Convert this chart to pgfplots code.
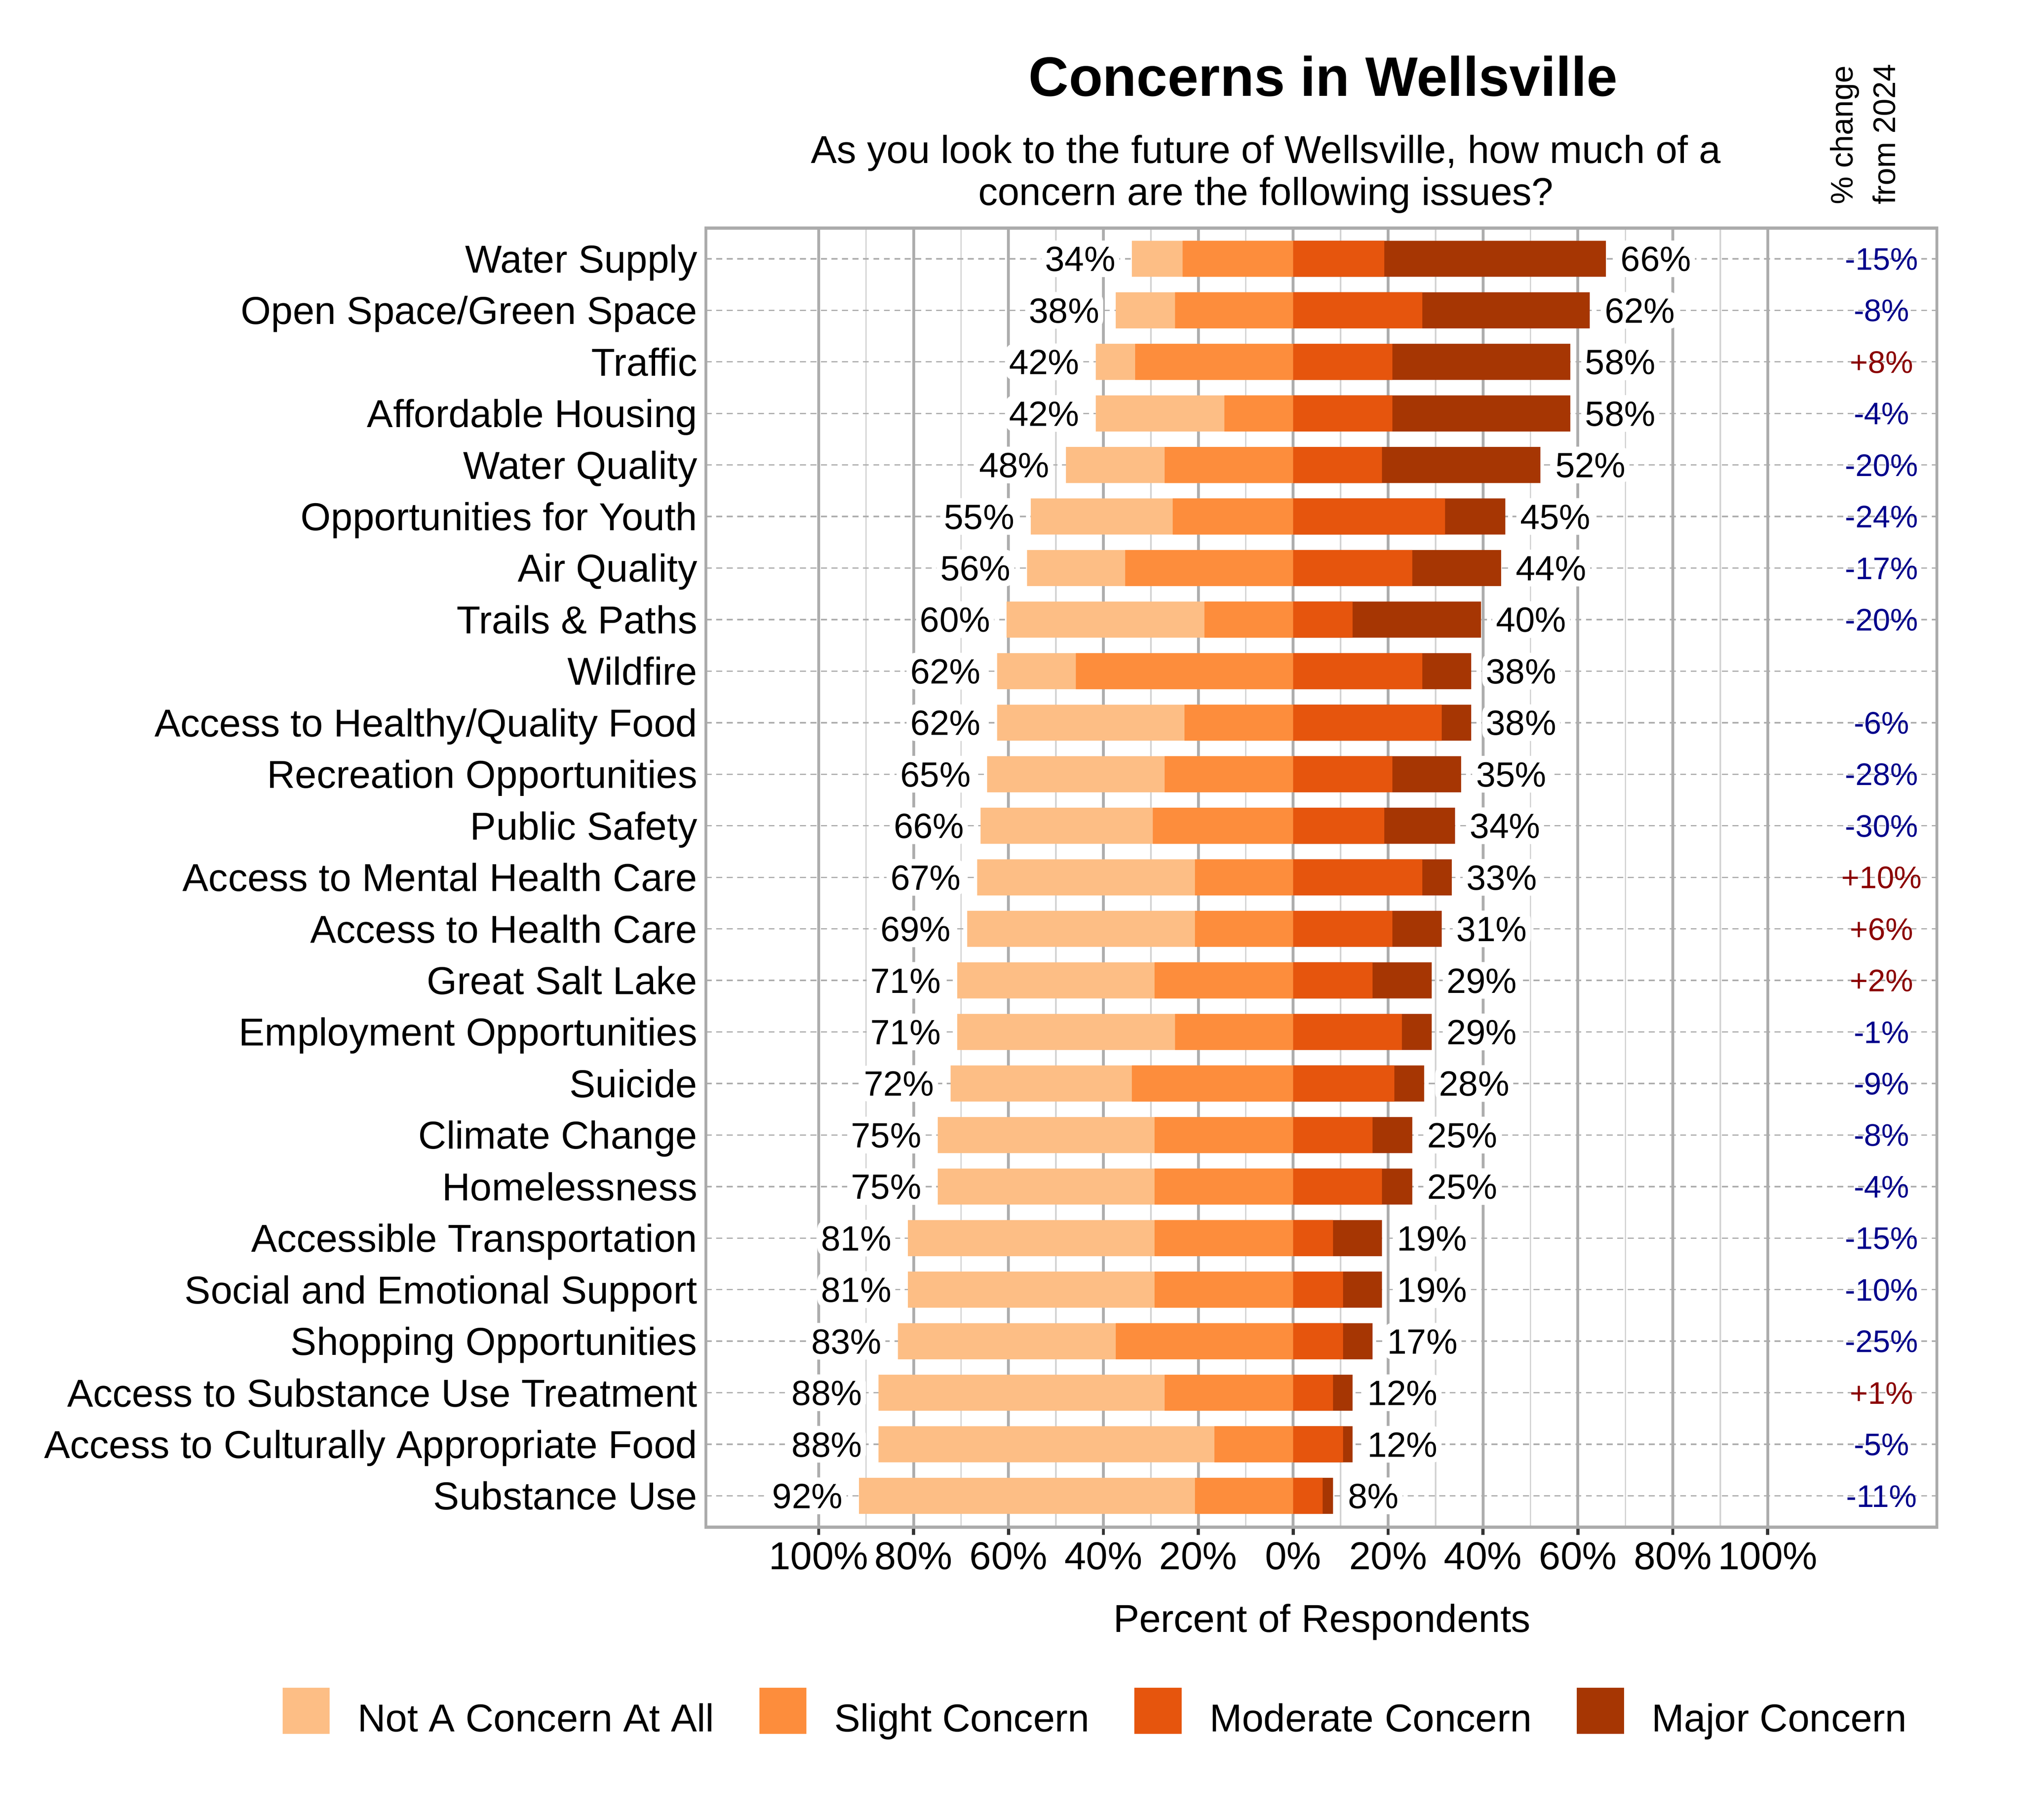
\documentclass[border=0pt]{standalone}
\usepackage{pgfplots}
\pgfplotsset{compat=1.18}
\usepackage{pgfplotstable}
\usepackage{fontspec}
\setmainfont{Liberation Sans}

\definecolor{cNot}{HTML}{FDBE85}
\definecolor{cSlight}{HTML}{FD8D3C}
\definecolor{cMod}{HTML}{E6550D}
\definecolor{cMajor}{HTML}{A63603}
\definecolor{gridmaj}{HTML}{ADADAD}
\definecolor{gridmin}{HTML}{D2D2D2}
\definecolor{zeroline}{HTML}{707070}
\definecolor{framegray}{HTML}{ABABAB}
\definecolor{negblue}{HTML}{00008B}
\definecolor{posred}{HTML}{8B0000}

\newcommand{\labfont}{\fontsize{8.54}{10}\selectfont}
\newcommand{\valfont}{\fontsize{7.7}{9}\selectfont}
\newcommand{\chgfont}{\fontsize{6.85}{9.3}\selectfont}

% row: 1 = top; left = total not/slight side, right = total moderate/major side
\pgfplotstableread{
row left slight mod right ll rl
1  34.0 23.3 19.2 65.9 34 66
2  37.4 24.9 27.2 62.5 38 62
3  41.6 33.3 20.9 58.4 42 58
4  41.6 14.5 20.9 58.4 42 58
5  47.9 27.1 18.7 52.1 48 52
6  55.3 25.4 32.0 44.7 55 45
7  56.1 35.4 25.1 43.8 56 44
8  60.4 18.7 12.5 39.6 60 40
9  62.4 45.8 27.2 37.5 62 38
10 62.4 22.9 31.3 37.5 62 38
11 64.5 27.1 20.9 35.4 65 35
12 65.9 29.6 19.2 34.1 66 34
13 66.6 20.7 27.2 33.4 67 33
14 68.7 20.7 20.9 31.3 69 31
15 70.8 29.2 16.7 29.2 71 29
16 70.8 24.9 22.9 29.2 71 29
17 72.2 34.0 21.3 27.6 72 28
18 74.9 29.2 16.7 25.1 75 25
19 74.9 29.2 18.7 25.1 75 25
20 81.2 29.2 8.4  18.7 81 19
21 81.2 29.2 10.5 18.7 81 19
22 83.3 37.4 10.5 16.7 83 17
23 87.4 27.1 8.4  12.5 88 12
24 87.4 16.6 10.5 12.5 88 12
25 91.5 20.7 6.2  8.4  92 8
}\concerns

\pgfplotsset{
  cbar/.style={xbar, bar shift=0pt, bar width=0.7, draw=none, forget plot},
}
\tikzset{
  vallab/.style={font=\valfont, fill=white, rounded corners=2pt,
    inner xsep=0.03cm, inner ysep=0.045cm, text height=0.193cm, text depth=0pt},
}

\begin{document}
\begin{tikzpicture}
\path[use as bounding box] (0,0) rectangle (15.6cm,14.04cm);
\begin{axis}[
  at={(5.445cm,2.259cm)}, anchor=south west,
  width=9.498cm, height=10.021cm, scale only axis,
  clip=false,
  xmin=-123.8, xmax=135.65,
  ymin=0.405, ymax=25.608, y dir=reverse,
  axis line style={draw=framegray, line width=0.65pt},
  xtick={-100,-80,...,100},
  xticklabels={100\%,80\%,60\%,40\%,20\%,0\%,20\%,40\%,60\%,80\%,100\%},
  minor x tick num=1,
  ytick={1,...,25},
  yticklabels={Water Supply, Open Space/Green Space, Traffic, Affordable Housing,
    Water Quality, Opportunities for Youth, Air Quality, Trails \& Paths, Wildfire,
    Access to Healthy/Quality Food, Recreation Opportunities, Public Safety,
    Access to Mental Health Care, Access to Health Care, Great Salt Lake,
    Employment Opportunities, Suicide, Climate Change, Homelessness,
    Accessible Transportation, Social and Emotional Support, Shopping Opportunities,
    Access to Substance Use Treatment, Access to Culturally Appropriate Food,
    Substance Use},
  xtick pos=bottom, ytick pos=left,
  tick align=outside,
  major tick length=0.058cm, minor tick length=0pt,
  tick style={color=black!80, line width=0.7pt},
  ytick style={draw=none},
  xmajorgrids, xminorgrids, ymajorgrids,
  major x grid style={draw=gridmaj, line width=0.6pt},
  minor x grid style={draw=gridmin, line width=0.3pt},
  major y grid style={draw=gridmaj, line width=0.3pt, dash pattern=on 1.3pt off 1pt},
  extra x ticks={0}, extra x tick labels={},
  extra x tick style={grid=major, major grid style={draw=zeroline, line width=0.4pt}, tick style={draw=none}},
  xticklabel style={font=\labfont, anchor=north, inner sep=0pt, text height=0.215cm, text depth=0pt, yshift=-0.046cm},
  yticklabel style={font=\labfont, anchor=east, inner sep=0pt, text height=0.215cm, text depth=0pt},
  title={Concerns in Wellsville},
  title style={at={(axis description cs:0.5015,1.1018)}, anchor=base, inner sep=0pt, yshift=-6pt,
    font=\fontsize{12.2}{14}\selectfont\bfseries},
  xlabel={Percent of Respondents},
  xlabel style={at={(axis description cs:0.5006,-0.0807)}, anchor=base, inner sep=0pt, font=\labfont},
  legend columns=4,
  legend style={at={(axis description cs:-0.3445,-0.1414)}, anchor=west,
    draw=none, fill=none, inner sep=0pt, font=\labfont,
    nodes={inner sep=0pt, text height=0.215cm, text depth=0pt},
    /tikz/every odd column/.append style={column sep=0.215cm},
    /tikz/every even column/.append style={column sep=0.347cm}},
  legend image code/.code={\fill[#1] (0cm,-0.125cm) rectangle (0.364cm,0.23cm);},
]

% left side: not-a-concern bar drawn to the full left total, slight on top of it
\addplot[cbar, fill=cNot, point meta=explicit symbolic,
  nodes near coords={\pgfplotspointmeta\%},
  nodes near coords style={vallab, anchor=east, xshift=-0.09cm}]
  table[x expr=-\thisrow{left}, y=row, meta=ll] {\concerns};
\addplot[cbar, fill=cSlight] table[x expr=-\thisrow{slight}, y=row] {\concerns};

% right side: major bar to the full right total, moderate on top of it
\addplot[cbar, fill=cMajor, point meta=explicit symbolic,
  nodes near coords={\pgfplotspointmeta\%},
  nodes near coords style={vallab, anchor=west, xshift=0.078cm}]
  table[x=right, y=row, meta=rl] {\concerns};
\addplot[cbar, fill=cMod] table[x=mod, y=row] {\concerns};

% % change from 2024
\addplot[only marks, mark=none, forget plot, point meta=explicit symbolic,
  nodes near coords={\pgfplotspointmeta\%},
  nodes near coords style={anchor=center, font=\chgfont, text=negblue, inner sep=0pt, text height=0.172cm, text depth=0pt}]
  coordinates {(124,1)[-15] (124,2)[-8] (124,4)[-4] (124,5)[-20] (124,6)[-24]
    (124,7)[-17] (124,8)[-20] (124,10)[-6] (124,11)[-28] (124,12)[-30]
    (124,16)[-1] (124,17)[-9] (124,18)[-8] (124,19)[-4] (124,20)[-15]
    (124,21)[-10] (124,22)[-25] (124,24)[-5] (124,25)[-11]};
\addplot[only marks, mark=none, forget plot, point meta=explicit symbolic,
  nodes near coords={\pgfplotspointmeta\%},
  nodes near coords style={anchor=center, font=\chgfont, text=posred, inner sep=0pt, text height=0.172cm, text depth=0pt}]
  coordinates {(124,3)[+8] (124,13)[+10] (124,14)[+6] (124,15)[+2] (124,23)[+1]};

\addlegendimage{fill=cNot, draw=none}
\addlegendentry{Not A Concern At All}
\addlegendimage{fill=cSlight, draw=none}
\addlegendentry{Slight Concern}
\addlegendimage{fill=cMod, draw=none}
\addlegendentry{Moderate Concern}
\addlegendimage{fill=cMajor, draw=none}
\addlegendentry{Major Concern}

\node[anchor=base, inner sep=0pt, font=\labfont] at (axis description cs:0.4550,1.0499)
  {As you look to the future of Wellsville, how much of a};
\node[anchor=base, inner sep=0pt, font=\labfont] at (axis description cs:0.4550,1.01746)
  {concern are the following issues?};
\node[rotate=90, anchor=south west, inner sep=0pt, align=left, font=\chgfont]
  at (axis description cs:0.9671,1.01746) {\% change\\from 2024};
\end{axis}
\end{tikzpicture}
\end{document}
